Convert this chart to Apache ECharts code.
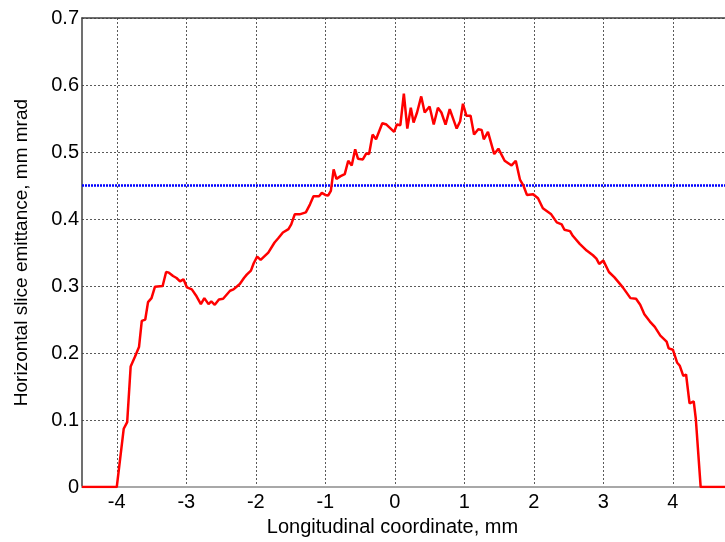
<!DOCTYPE html>
<html>
<head>
<meta charset="utf-8">
<script src="https://cdn.jsdelivr.net/npm/echarts@6/dist/echarts.min.js"></script>
<style>
  html, body { margin: 0; padding: 0; background: #ffffff; }
  #chart { width: 725px; height: 542px; }
</style>
</head>
<body>
<div id="chart"></div>
<script>
// Longitudinal position along the bunch, mm
const positionMm = [
  -4.50, -4.00, -3.90, -3.85, -3.80, -3.74, -3.68, -3.64, -3.59, -3.55,
  -3.50, -3.45, -3.34, -3.29, -3.25, -3.19, -3.14, -3.09, -3.04, -2.99,
  -2.92, -2.86, -2.79, -2.74, -2.68, -2.64, -2.59, -2.53, -2.47, -2.37,
  -2.32, -2.23, -2.17, -2.13, -2.07, -2.03, -1.98, -1.93, -1.82, -1.73,
  -1.68, -1.61, -1.53, -1.49, -1.44, -1.37, -1.28, -1.22, -1.17, -1.09,
  -1.05, -1.00, -0.96, -0.92, -0.88, -0.84, -0.78, -0.72, -0.67, -0.62,
  -0.57, -0.53, -0.46, -0.41, -0.37, -0.32, -0.27, -0.18, -0.12, -0.01,
   0.03,  0.08,  0.13,  0.18,  0.23,  0.27,  0.32,  0.38,  0.43,  0.50,
   0.56,  0.62,  0.67,  0.73,  0.79,  0.89,  0.94,  0.98,  1.03,  1.09,
   1.14,  1.20,  1.25,  1.28,  1.34,  1.43,  1.49,  1.58,  1.68,  1.74,
   1.80,  1.85,  1.90,  1.99,  2.06,  2.13,  2.25,  2.33,  2.40,  2.44,
   2.52,  2.56,  2.66,  2.76,  2.85,  2.90,  2.94,  3.00,  3.08,  3.16,
   3.28,  3.39,  3.47,  3.53,  3.59,  3.67,  3.74,  3.82,  3.91,  3.94,
   4.00,  4.06,  4.10,  4.15,  4.19,  4.24,  4.30,  4.33,  4.40,  4.75
];

// Horizontal slice emittance at each position, mm mrad
const sliceEmittance = [
  0.000, 0.000, 0.087, 0.097, 0.180, 0.194, 0.209, 0.248, 0.250, 0.276,
  0.282, 0.299, 0.300, 0.321, 0.320, 0.315, 0.312, 0.307, 0.310, 0.298,
  0.295, 0.286, 0.273, 0.282, 0.273, 0.277, 0.272, 0.280, 0.281, 0.293,
  0.295, 0.303, 0.312, 0.317, 0.323, 0.334, 0.344, 0.339, 0.350, 0.365,
  0.371, 0.380, 0.385, 0.392, 0.407, 0.407, 0.410, 0.422, 0.434, 0.434,
  0.439, 0.436, 0.435, 0.442, 0.474, 0.460, 0.464, 0.467, 0.487, 0.480,
  0.504, 0.490, 0.489, 0.498, 0.497, 0.526, 0.519, 0.543, 0.541, 0.530,
  0.541, 0.540, 0.587, 0.535, 0.566, 0.544, 0.559, 0.583, 0.559, 0.568,
  0.541, 0.566, 0.559, 0.541, 0.564, 0.535, 0.546, 0.572, 0.554, 0.554,
  0.526, 0.534, 0.533, 0.519, 0.530, 0.497, 0.505, 0.487, 0.480, 0.487,
  0.459, 0.450, 0.436, 0.437, 0.431, 0.416, 0.407, 0.395, 0.392, 0.384,
  0.382, 0.375, 0.363, 0.353, 0.346, 0.341, 0.333, 0.338, 0.321, 0.313,
  0.298, 0.282, 0.281, 0.272, 0.258, 0.247, 0.239, 0.226, 0.217, 0.207,
  0.205, 0.186, 0.181, 0.166, 0.168, 0.125, 0.128, 0.102, 0.000, 0.000
];

// Projected (whole-bunch) emittance level, mm mrad
const projectedLevel = 0.45;
const projectedSpan = [-4.50, 4.75];

// Axis ticks
const xTicks = [-4, -3, -2, -1, 0, 1, 2, 3, 4];
const yTicks = [0, 0.1, 0.2, 0.3, 0.4, 0.5, 0.6, 0.7];

const xRange = [-4.5, 4.75];
const yRange = [0, 0.7];

const font = 'Liberation Sans, Arial, sans-serif';
const gridLine = { show: true, lineStyle: { color: '#5a5a5a', type: [2, 2], width: 1 } };

const chart = echarts.init(document.getElementById('chart'), null, { renderer: 'canvas' });

chart.setOption({
  animation: false,
  backgroundColor: '#ffffff',
  grid: { left: 82, right: 0, top: 18, bottom: 53, containLabel: false },
  xAxis: [
    {
      type: 'value',
      position: 'bottom',
      min: xRange[0],
      max: xRange[1],
      name: 'Longitudinal coordinate, mm',
      nameLocation: 'middle',
      nameGap: 27,
      nameTextStyle: { fontFamily: font, fontSize: 20, color: '#000', padding: [0, 22, 0, 0] },
      axisLine: { show: true, onZero: false, lineStyle: { color: '#a8a8a8', width: 2 } },
      axisTick: { show: false, customValues: xTicks },
      axisLabel: {
        fontFamily: font, fontSize: 20, color: '#000', margin: 5,
        customValues: xTicks,
        formatter: v => String(v)
      },
      splitLine: gridLine
    },
    {
      type: 'value',
      position: 'top',
      min: xRange[0],
      max: xRange[1],
      axisLine: { show: true, onZero: false, lineStyle: { color: '#404040', width: 1.5 } },
      axisTick: { show: false },
      axisLabel: { show: false },
      splitLine: { show: false }
    }
  ],
  yAxis: {
    type: 'value',
    min: yRange[0],
    max: yRange[1],
    interval: 0.1,
    name: 'Horizontal slice emittance, mm mrad',
    nameLocation: 'middle',
    nameGap: 51,
    nameTextStyle: { fontFamily: font, fontSize: 19, color: '#000' },
    axisLine: { show: true, onZero: false, lineStyle: { color: '#404040', width: 1.5 } },
    axisTick: { show: false },
    axisLabel: {
      fontFamily: font, fontSize: 20, color: '#000', margin: 3,
      formatter: v => {
        const t = yTicks.find(k => Math.abs(k - v) < 1e-9);
        return t === undefined ? '' : (t === 0 ? '0' : t.toFixed(1));
      }
    },
    splitLine: gridLine
  },
  series: [
    {
      name: 'projected',
      type: 'line',
      xAxisIndex: 0,
      data: projectedSpan.map(x => [x, projectedLevel]),
      showSymbol: false,
      silent: true,
      lineStyle: { color: '#0000ff', width: 2.5, type: [2, 1] },
      z: 2
    },
    {
      name: 'slice',
      type: 'line',
      xAxisIndex: 0,
      data: positionMm.map((x, i) => [x, sliceEmittance[i]]),
      showSymbol: false,
      silent: true,
      lineStyle: { color: '#ff0000', width: 2.5 },
      z: 3
    }
  ]
});
</script>
</body>
</html>
